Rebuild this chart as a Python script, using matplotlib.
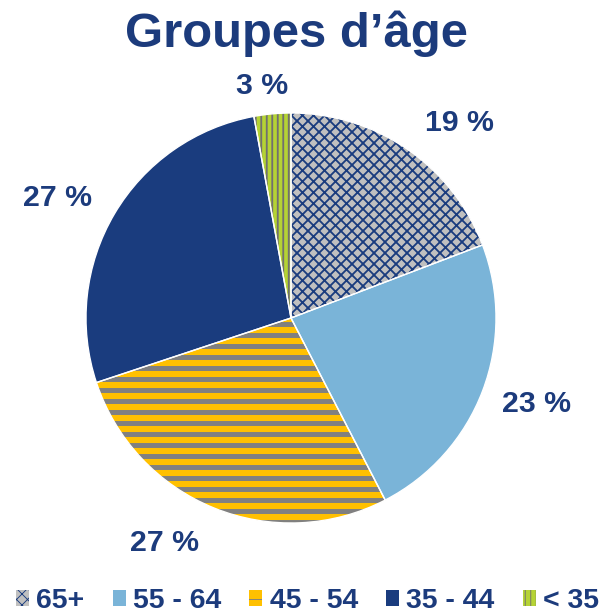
import matplotlib.pyplot as plt
from matplotlib.patches import Patch
import numpy as np

# données
groupes = ['65+', '55 - 64', '45 - 54', '35 - 44', '< 35']
parts = [19.2, 23.2, 27.5, 27.2, 2.9]
etiquettes = ['19 %', '23 %', '27 %', '27 %', '3 %']

# styles
couleurs = ['#c0c0c0', '#7ab4d8', '#ffc000', '#1a3c7e', '#b5d334']
hachures = ['xx', '', '-', '', '||']
coul_hach = ['#1a3c7e', '#7ab4d8', '#808080', '#1a3c7e', '#707070']
larg_hach = [2.0, 1.0, 5.4, 1.0, 2.0]
dist_lbl = [1.256, 1.271, 1.258, 1.282, 1.141]
decal_angle = [6.2, -1.6, 7.3, -3.5, -1.9]
navy = '#1c3b7c'
police = 'Liberation Sans'

DPI = 66
fig = plt.figure(figsize=(609 / DPI, 614 / DPI), dpi=DPI)
W, H = 609, 614
cx, cy, r = 291, 296, 205
ax = fig.add_axes([(cx - r) / W, (cy - r) / H, 2 * r / W, 2 * r / H])

wedges, _ = ax.pie(parts, colors=couleurs, startangle=90, counterclock=False,
                   radius=1, wedgeprops=dict(linewidth=0))
for w, h, hc, lw in zip(wedges, hachures, coul_hach, larg_hach):
    w.set_edgecolor(hc)
    w.set_hatch(h)
    if hasattr(w, 'set_hatch_linewidth'):
        w.set_hatch_linewidth(lw)

# bordures blanches
ax.pie(parts, colors=['none'] * 5, startangle=90, counterclock=False, radius=1,
       wedgeprops=dict(linewidth=1.5, edgecolor='white', facecolor='none'))

# étiquettes
cum = np.cumsum([0] + parts)
tot = cum[-1]
for i, lab in enumerate(etiquettes):
    mid = (cum[i] + cum[i + 1]) / 2 / tot * 360 + decal_angle[i]
    mid = np.radians(mid)
    d = dist_lbl[i]
    ax.text(d * np.sin(mid), d * np.cos(mid), lab, ha='center', va='center',
            fontsize=33, fontweight='bold', color=navy,
            family=police, clip_on=False)

ax.set_xlim(-1, 1)
ax.set_ylim(-1, 1)
ax.axis('off')

fig.text(296.5 / W, 1 - 47 / H, 'Groupes d’âge', ha='center', va='baseline',
         fontsize=53.5, fontweight='bold', color=navy, family=police)

poignees = []
for c, h, hc, lw in zip(couleurs, hachures, coul_hach, larg_hach):
    p = Patch(facecolor=c, edgecolor=hc, hatch=h, linewidth=0)
    poignees.append(p)
leg = fig.legend(poignees, groupes, loc='center', bbox_to_anchor=(307.5 / W, 1 - 601 / H),
                 ncol=5, frameon=False, handlelength=0.46, handleheight=0.46,
                 handletextpad=0.25, columnspacing=1.0, borderpad=0,
                 prop=dict(family=police, weight='bold', size=31))
for t in leg.get_texts():
    t.set_color(navy)

fig.savefig('out.png', dpi=DPI)
